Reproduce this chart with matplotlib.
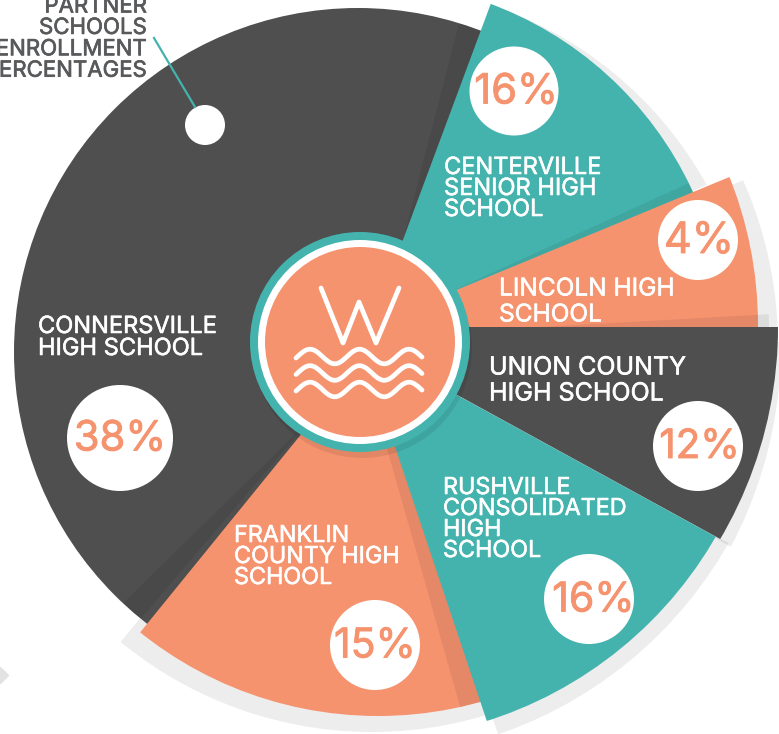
# plot.py
import numpy as np
import matplotlib
matplotlib.use('Agg')
import matplotlib.pyplot as plt
import matplotlib.patheffects as pe
from matplotlib.patches import Circle, Wedge

plt.rcParams['font.family'] = ['Inter', 'DejaVu Sans']

# the data
schools = ['CONNERSVILLE\nHIGH SCHOOL', 'CENTERVILLE\nSENIOR HIGH\nSCHOOL', 'LINCOLN HIGH\nSCHOOL',
           'UNION COUNTY\nHIGH SCHOOL', 'FRANKLIN\nCOUNTY HIGH\nSCHOOL', 'RUSHVILLE\nCONSOLIDATED\nHIGH\nSCHOOL']
percents = [38, 16, 4, 12, 15, 16]
# slice sides, degrees counter clockwise from east, as drawn in the picture
angle_from = [65, 20, -5, -28.7, 230.9, -71.5]
angle_to = [240, 69.6, 22.5, 0, 290, -28.7]
title_lines = ['PARTNER', 'SCHOOLS', 'ENROLLMENT', 'PERCENTAGES']

CORAL = '#f6936f'
TEAL = '#44b3ad'
DARK = '#4f4f4f'
GREY_TEXT = '#58595b'
colors = [DARK, TEAL, CORAL, DARK, CORAL, TEAL]

# layout, in picture pixels. each slice is a disc cut by two rays from an apex
HUB = (360, 342)
arc_center = [(358, 352), (364, 343), (360, 325), (360, 327), (378, 336), (364, 334)]
arc_radius = [344, 362, 398, 418, 380, 406]
apex = [(358, 352), (365, 342), (360, 330), (333, 327), (381, 336), (360, 342)]

label_x = [38, 444, 499, 489, 234, 443]
label_y = [327, 168, 289, 368, 536, 488]
label_step = [22, 21, 26, 26, 21, 21]
label_size = [17, 17, 17.6, 18, 16.8, 16.8]
badge_x = [120, 514, 698, 698, 375, 589]
badge_y = [438, 91, 240, 446, 645, 599]
badge_r = [53, 44.5, 40, 45, 45, 45]
badge_size = [30, 30, 31, 29, 29.5, 29.5]
badge_text_dx = [0, 2, 1, 1.5, 0, 4.5]

# drop shadows on the white background
shadow_center = [(368, 372), (372, 345), (350, 345), (372, 336), (362, 336)]
shadow_radius = [387, 406, 431, 396, 421]
shadow_apex = [HUB, HUB, HUB, (372, 336), HUB]
shadow_from = [24.4, -2, -28.9, 230.6, -70.6]
shadow_to = [68, 22.9, 0, 289, -28.6]


def ray_wedge(ax, center, radius, a0, a1, **kw):
    # y axis is flipped so the angles flip too
    w = Wedge(center, radius, -a1, -a0, **kw)
    w.set_transform(ax.transData)
    return w


def draw_slice(ax, i):
    disc = Circle(arc_center[i], arc_radius[i], facecolor=colors[i], edgecolor='none')
    ax.add_patch(disc)
    disc.set_clip_path(ray_wedge(ax, apex[i], 900, angle_from[i], angle_to[i]))
    return disc


def draw_band(ax, center, radius, a0, a1, parent=None):
    band = ray_wedge(ax, center, radius, a0, a1, facecolor='black', edgecolor='none', alpha=0.07)
    ax.add_patch(band)
    if parent is not None:
        band.set_clip_path(Circle(arc_center[parent], arc_radius[parent], transform=ax.transData))


def heavier(color, width):
    # the installed fonts are thinner than the original lettering
    return [pe.withStroke(linewidth=width, foreground=color)]


fig = plt.figure(figsize=(7.79, 7.34), dpi=100)
ax = fig.add_axes([0, 0, 1, 1])
ax.set_xlim(0, 779)
ax.set_ylim(734, 0)
ax.axis('off')

for i in range(len(shadow_radius)):
    s = Circle(shadow_center[i], shadow_radius[i], facecolor='black', edgecolor='none', alpha=0.07)
    ax.add_patch(s)
    s.set_clip_path(ray_wedge(ax, shadow_apex[i], 900, shadow_from[i], shadow_to[i]))
ax.plot([0], [675], marker='D', ms=8, color='#e2e2e2', clip_on=True)

# painted back to front so that each slice lies on the one before
draw_slice(ax, 0)
draw_band(ax, (403, 240), 400, 69.6, 75.5, parent=0)
draw_band(ax, (309, 421), 400, 224.4, 229.6, parent=0)
draw_slice(ax, 1)
draw_band(ax, (450, 292), 400, 22, 24.5, parent=1)
draw_slice(ax, 2)
draw_band(ax, (540, 327), 229, 0, 3.2)
draw_slice(ax, 3)
draw_slice(ax, 4)
draw_band(ax, (345, 300), 600, -74.2, -71, parent=4)
draw_slice(ax, 5)

# pointer
ax.plot([154, 195], [38, 107], color=TEAL, lw=1.6)
ax.add_patch(Circle((205, 125), 20, facecolor='white', edgecolor='none'))
for i, line in enumerate(title_lines):
    ax.text(147, 6.5 + i * 21.4, line, color=GREY_TEXT, fontsize=16, ha='right', va='center',
            path_effects=heavier(GREY_TEXT, 0.5))

# labels and percent badges
for i, name in enumerate(schools):
    for j, line in enumerate(name.split('\n')):
        ax.text(label_x[i], label_y[i] + j * label_step[i], line, color='white',
                fontsize=label_size[i], ha='left', va='center', path_effects=heavier('white', 0.4))
    ax.add_patch(Circle((badge_x[i], badge_y[i]), badge_r[i], facecolor='white', edgecolor='none'))
    ax.text(badge_x[i] + badge_text_dx[i], badge_y[i] + 1.5, f'{percents[i]}%', color=CORAL,
            fontsize=badge_size[i], ha='center', va='center', path_effects=heavier(CORAL, 0.6))

# hub and logo
ax.add_patch(Circle((362, 348), 110, facecolor='black', edgecolor='none', alpha=0.08))
ax.add_patch(Circle(HUB, 110, facecolor=TEAL, edgecolor='none'))
ax.add_patch(Circle(HUB, 102, facecolor='white', edgecolor='none'))
ax.add_patch(Circle(HUB, 95, facecolor=CORAL, edgecolor='none'))
ax.plot([321, 343, 359, 376, 399], [288, 343, 302, 343, 288], color='white', lw=3.4,
        solid_capstyle='round', solid_joinstyle='round')
wave_x = np.linspace(296, 422, 120)
for base in [356.5, 373, 389.5]:
    ax.plot(wave_x, base - 7.3 * np.cos(2 * np.pi * (wave_x - 310) / 49.5), color='white', lw=3.4,
            solid_capstyle='round')

fig.savefig('out.png', dpi=100)
